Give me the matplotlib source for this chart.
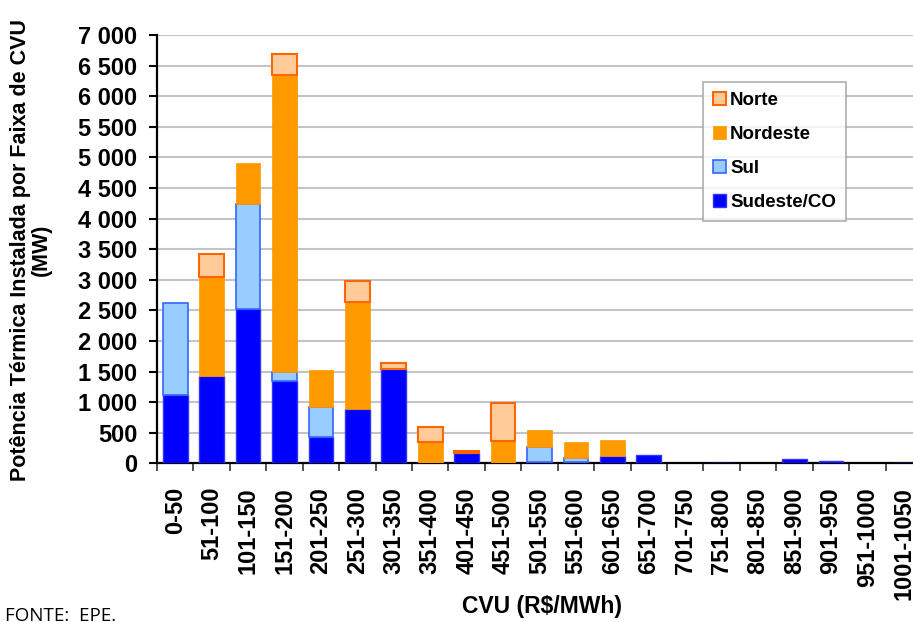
import numpy as np
import matplotlib
matplotlib.use("Agg")
import matplotlib.pyplot as plt
from matplotlib.patches import Patch

# Faixas de CVU (R$/MWh)
categories = ['0-50', '51-100', '101-150', '151-200', '201-250', '251-300', '301-350',
              '351-400', '401-450', '451-500', '501-550', '551-600', '601-650', '651-700',
              '701-750', '751-800', '801-850', '851-900', '901-950', '951-1000', '1001-1050']

# Potencia instalada (MW) por subsistema
sudeste = [1120, 1430, 2530, 1345, 435, 880, 1535, 0, 170, 0, 25, 25, 120, 135, 0, 5, 0, 65, 38, 0, 5]
sul = [1495, 0, 1700, 155, 480, 0, 0, 0, 0, 0, 235, 60, 0, 0, 0, 0, 0, 0, 0, 0, 0]
nordeste = [0, 1610, 670, 4845, 610, 1750, 0, 345, 0, 365, 285, 265, 260, 0, 0, 0, 0, 0, 0, 0, 0]
norte = [0, 380, 0, 345, 0, 355, 110, 245, 35, 615, 0, 0, 0, 0, 0, 0, 0, 0, 0, 0, 0]

yticks = np.arange(0, 7001, 500)

# cores (preenchimento, contorno, espessura)
styles = {
    'Norte': ('#FFCC99', '#FF6600', 1.5),
    'Nordeste': ('#FF9900', '#FF9900', 0.5),
    'Sul': ('#99CCFF', '#3366FF', 1.2),
    'Sudeste/CO': ('#0000FF', '#3333FF', 1.0),
}

plt.rcParams['font.family'] = ['Liberation Sans', 'DejaVu Sans']
plt.rcParams['font.weight'] = 'bold'

fig = plt.figure(figsize=(9.13, 6.22), dpi=100)
ax = fig.add_axes([157 / 913, 1 - 463.3 / 622, 765 / 913, 428.3 / 622])

x = np.arange(len(categories))
w = 0.675


def edges(vals, color):
    # no outline on empty segments
    return [color if v > 0 else 'none' for v in vals]


bottom = np.zeros(len(categories))
for name, vals in [('Sudeste/CO', sudeste), ('Sul', sul), ('Nordeste', nordeste), ('Norte', norte)]:
    fc, ec, lw = styles[name]
    ax.bar(x, vals, w, bottom=bottom, color=fc, edgecolor=edges(vals, ec), linewidth=lw, zorder=3)
    bottom = bottom + np.array(vals)

# eixos
ax.set_xlim(-0.5, len(categories) - 0.5)
ax.set_ylim(0, 7000)
ax.set_yticks(yticks)
ax.set_yticklabels([f"{v:,}".replace(',', ' ') for v in yticks], fontsize=17, fontweight='bold')
ax.yaxis.grid(True, color='#C4C4C4', linewidth=1.5)
ax.set_axisbelow(True)

ax.set_xticks(x)
ax.set_xticklabels(categories, rotation=90, fontsize=17, fontweight='bold', va='top', ha='center')
ax.set_xticks(np.arange(-0.5, len(categories), 1), minor=True)
ax.tick_params(axis='x', which='major', length=0, pad=17)
ax.tick_params(axis='x', which='minor', length=6, width=1.2, color='#333333')
ax.tick_params(axis='y', length=6, width=1.5, pad=8)

for s in ['top', 'right']:
    ax.spines[s].set_visible(False)
ax.spines['left'].set_linewidth(1.6)
ax.spines['bottom'].set_linewidth(1.6)

fig.text(31 / 913, 1 - 250 / 622, 'Potência Térmica Instalada por Faixa de CVU\n(MW)',
         rotation=90, ha='center', va='center', multialignment='center',
         fontsize=15.5, fontweight='bold', linespacing=0.95)
fig.text(542 / 913, 1 - 607 / 622, 'CVU (R$/MWh)', fontsize=16.5, fontweight='bold',
         ha='center', va='center')
fig.text(5 / 913, 1 - 607 / 622, 'FONTE:  EPE.', fontsize=13.5, fontweight='normal',
         family='Open Sans', va='top', ha='left')

# legenda na ordem do original
handles = [Patch(facecolor=styles[n][0], edgecolor=styles[n][1], linewidth=styles[n][2], label=n)
           for n in ['Norte', 'Nordeste', 'Sul', 'Sudeste/CO']]
leg = ax.legend(handles=handles, loc='upper left', bbox_to_anchor=(703 / 913, 1 - 82 / 622),
                bbox_transform=fig.transFigure, fontsize=13.5, frameon=True, fancybox=False,
                edgecolor='#999999', handlelength=0.65, handleheight=0.65, handletextpad=0.25,
                labelspacing=0.9, borderpad=0.55, borderaxespad=0)
leg.get_frame().set_linewidth(1.2)
for t in leg.get_texts():
    t.set_fontweight('bold')

plt.savefig('out.png', dpi=100)
